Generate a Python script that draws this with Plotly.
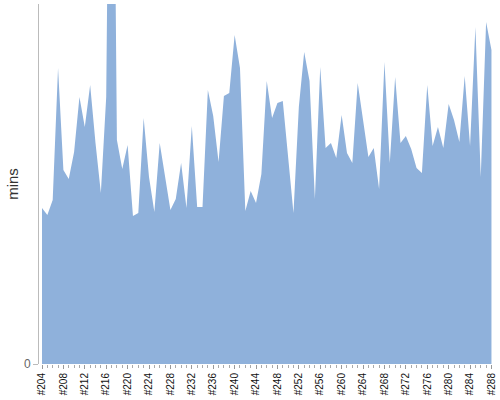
import plotly.graph_objects as go

builds = ["#%d" % n for n in range(204, 289)]
mins = [15.6, 14.9, 16.4, 29.6, 19.4, 18.5, 21.2, 26.7, 23.7, 27.9,
        22.1, 17.1, 26.7, 83.0, 22.4, 19.5, 21.9, 14.8, 15.1, 24.6,
        18.7, 15.2, 22.1, 18.7, 15.4, 16.5, 20.1, 15.6, 23.8, 15.7,
        15.7, 27.4, 24.8, 20.2, 26.8, 27.1, 32.9, 29.6, 15.3, 17.3,
        16.1, 19.0, 28.3, 24.6, 26.1, 26.3, 20.7, 15.1, 25.7, 31.2,
        28.3, 16.5, 29.7, 21.6, 22.1, 20.6, 24.9, 21.1, 20.1, 28.1,
        24.4, 20.7, 21.6, 17.5, 30.2, 20.1, 28.7, 22.1, 22.8, 21.5,
        19.6, 19.1, 27.9, 21.8, 23.7, 21.6, 26.0, 24.4, 22.2, 28.8,
        21.8, 33.7, 18.7, 34.2, 31.4]
tick_every = 4

xs = list(range(len(builds)))
tickvals = xs[::tick_every]
ticktext = builds[::tick_every]

fig = go.Figure(go.Scatter(
    x=xs, y=mins, mode="lines", fill="tozeroy",
    line=dict(width=0, color="rgb(143,177,219)"),
    fillcolor="rgb(143,177,219)", hoverinfo="skip"))

fig.update_layout(
    width=500, height=400,
    margin=dict(l=39, r=8, t=4, b=36, autoexpand=False),
    paper_bgcolor="white", plot_bgcolor="white",
    showlegend=False,
    font=dict(family="Liberation Sans, Arial, sans-serif", size=10, color="#222"),
)
fig.update_xaxes(
    range=[-0.56, 84.1], tickvals=tickvals, ticktext=ticktext,
    tickangle=-90, showgrid=False, zeroline=False, showline=False,
    ticks="outside", ticklen=4, tickcolor="#999", tickfont=dict(size=10, color="#111"),
    minor=dict(dtick=1, ticks="outside", ticklen=3, tickcolor="#aaa", showgrid=False),
    automargin=False,
)
fig.update_yaxes(
    range=[0, 36], tickvals=[0], ticktext=["0"], showgrid=False, zeroline=False,
    showline=True, linecolor="#bbb", linewidth=1,
    ticks="outside", ticklen=5, tickcolor="#bbb",
    tickfont=dict(size=12, color="#666"),
    title=dict(text="mins", font=dict(size=15, color="#333"), standoff=1),
    automargin=False,
)
fig.write_html("out.html", config={"displayModeBar": False},
               post_script="document.body.style.margin='0';document.body.style.overflow='hidden';")
